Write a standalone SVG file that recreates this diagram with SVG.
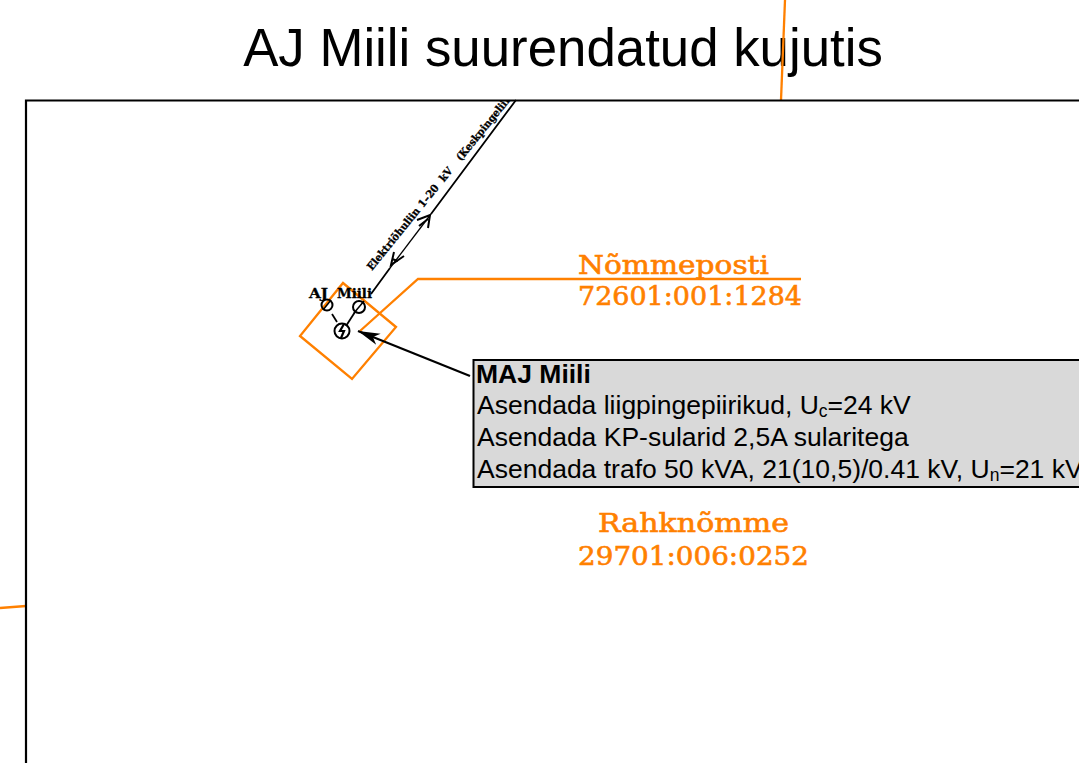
<svg xmlns="http://www.w3.org/2000/svg" width="1079" height="763" viewBox="0 0 1079 763">
<style>
.sans{font-family:"Liberation Sans",Arial,sans-serif;fill:#000}
.slab{font-family:"DejaVu Serif",serif;fill:#ff8000;font-size:26px;stroke:#ff8000;stroke-width:.6}
.small{font-family:"DejaVu Serif",serif;fill:#000;font-weight:bold;stroke:#000;stroke-width:.3}
.or{fill:none;stroke:#ff8000;stroke-width:2.300}
.bk{fill:none;stroke:#000}
.box{font-size:26.500px}
.sub{font-size:17.500px}
</style>
<defs>
<clipPath id="frame"><rect x="26" y="101" width="1053" height="662"/></clipPath>
<marker id="head" markerUnits="userSpaceOnUse" markerWidth="24" markerHeight="14" refX="22" refY="7" orient="auto"><path d="M0 1 L22 7 L0 13 L6 7Z" fill="#000"/></marker>
</defs>
<rect width="1079" height="763" fill="#fff"/>
<g id="title"><text class="sans" x="563" y="66" font-size="52.800" text-anchor="middle">AJ Miili suurendatud kujutis</text></g>
<g id="boundaries">
<path class="or" d="M785 0 L781 100"/>
<path class="or" d="M0 608 L26 606"/>
</g>
<g id="frame-box"><path d="M1079 100.500H26V763" fill="none" stroke="#000" stroke-width="2.200"/></g>
<g id="parcel-nommeposti">
<path class="or" d="M343 283 L396 327 L352 379 L300 336Z"/>
<path class="or" d="M360 331 L418 279 H801"/>
<text class="slab" x="578" y="274" textLength="191" lengthAdjust="spacingAndGlyphs">Nõmmeposti</text>
<text class="slab" x="578" y="305" textLength="224" lengthAdjust="spacingAndGlyphs">72601:001:1284</text>
</g>
<g id="parcel-rahknomme">
<text class="slab" x="598" y="532" textLength="191" lengthAdjust="spacingAndGlyphs">Rahknõmme</text>
<text class="slab" x="578" y="565" textLength="231" lengthAdjust="spacingAndGlyphs">29701:006:0252</text>
</g>
<g id="connectors">
<path class="bk" stroke-width="1.800" d="M516 100 L431 214 M390 268 L371 294"/>
<path class="bk" stroke-width="1.300" d="M431 214 L390 268"/>
<path class="bk" stroke-width="2" d="M417 220 L430 215 L428 228 M419 226 L428 219 M404 256 L391 265 L394 252 M398 261 L392 259"/>
<path class="bk" stroke-width="1.800" d="M355 312 L346 326"/>
<path class="bk" stroke-width="1.800" d="M332 314 L337 322"/>
<path class="bk" stroke-width="2.200" d="M470 376 L358 331" marker-end="url(#head)"/>
</g>
<g id="line-label" clip-path="url(#frame)">
<g transform="translate(372 271) rotate(-50.900)" font-size="10.500">
<text class="small" x="0" y="0" textLength="77" lengthAdjust="spacingAndGlyphs">Elektriõhuliin</text>
<text class="small" x="81" y="0" textLength="26" lengthAdjust="spacingAndGlyphs">1–20</text>
<text class="small" x="114" y="0" textLength="15" lengthAdjust="spacingAndGlyphs">kV</text>
<text class="small" x="141" y="0" textLength="86" lengthAdjust="spacingAndGlyphs">(Keskpingeliin)</text>
</g>
</g>
<g id="aj-miili">
<text class="small" font-size="13.500" x="309" y="298" textLength="19" lengthAdjust="spacingAndGlyphs">AJ</text>
<text class="small" font-size="13.500" x="337" y="298" textLength="35" lengthAdjust="spacingAndGlyphs">Miili</text>
<circle class="bk" stroke-width="2" cx="327" cy="305" r="5.500"/>
<path class="bk" stroke-width="1.500" d="M323 310 L331 300"/>
<circle class="bk" stroke-width="2" cx="359" cy="307" r="6"/>
<path class="bk" stroke-width="1.500" d="M354 313 L364 301"/>
<circle class="bk" stroke-width="2" cx="342" cy="331" r="7.500"/>
<path d="M344 324 L340 331 L344 331 L341 338" fill="none" stroke="#000" stroke-width="2.200"/>
</g>
<g id="maj-miili">
<rect x="473.500" y="360" width="610" height="127" fill="#d9d9d9" stroke="#000" stroke-width="2"/>
<text class="sans box" x="476" y="383" font-weight="bold">MAJ Miili</text>
<text class="sans box" x="477" y="414">Asendada liigpingepiirikud, U<tspan class="sub" dy="3">c</tspan><tspan dy="-3">=24 kV</tspan></text>
<text class="sans box" x="477" y="446">Asendada KP-sularid 2,5A sularitega</text>
<text class="sans box" x="477" y="478">Asendada trafo 50 kVA, 21(10,5)/0.41 kV, U<tspan class="sub" dy="3">n</tspan><tspan dy="-3">=21 kV</tspan></text>
</g>
</svg>
